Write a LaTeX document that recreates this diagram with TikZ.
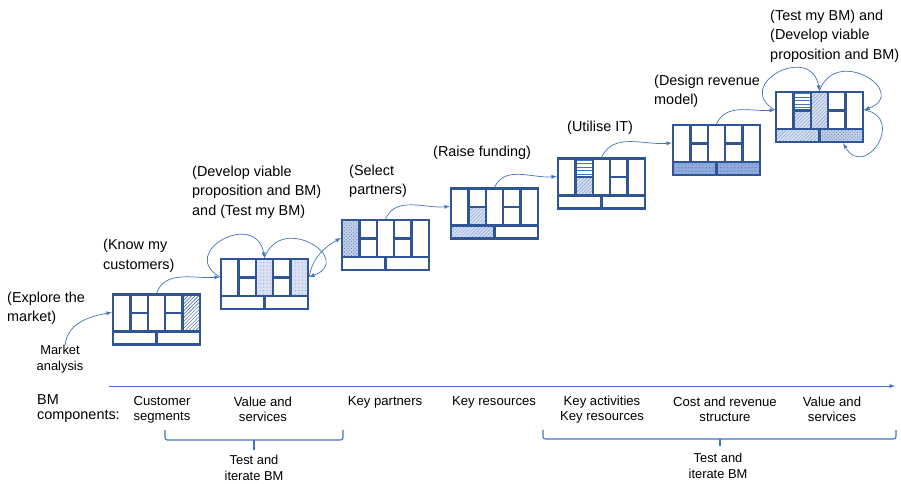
\documentclass[tikz,border=0pt]{standalone}
\usepackage{fontspec}
\setmainfont{Liberation Sans}
\usetikzlibrary{patterns}
\definecolor{bmdark}{HTML}{2F5597}
\definecolor{bmflow}{HTML}{4472C4}
\definecolor{bmpale}{HTML}{D9E1F2}
\definecolor{bmmid}{HTML}{8FAADC}
\tikzset{>=latex}
\tikzset{
  bmline/.style={draw=bmdark, line width=2pt},
  canvasbox/.style={bmline, rectangle, minimum width=2.61cm, minimum height=1.5cm, inner sep=0pt},
  flow/.style={->, draw=bmflow, line width=0.6pt},
  brace/.style={draw=bmflow, line width=0.9pt, rounded corners=2pt},
  hatchcell/.style={pattern=north east lines, pattern color=bmdark},
  lightcell/.style={preaction={fill=bmpale}, pattern=north east lines, pattern color=bmflow!70},
  dotcell/.style={preaction={fill=bmpale}, pattern=dots, pattern color=bmflow!60},
  stripecell/.style={pattern=horizontal lines, pattern color=bmflow},
  pebblecell/.style={preaction={fill=bmpale!85!bmflow}, pattern=crosshatch dots, pattern color=bmdark!75},
  darkcell/.style={preaction={fill=bmmid}, pattern=dots, pattern color=bmdark!80},
  steplabel/.style={anchor=west, align=left, inner sep=0pt, font=\fontsize{12.3}{16.6}\selectfont},
  complabel/.style={align=center, inner sep=0pt, font=\fontsize{11.2}{12.8}\selectfont},
  smalllabel/.style={align=center, inner sep=0pt, font=\fontsize{11}{13.4}\selectfont}
}
% inner lines of one canvas, drawn in its own 87 x 50 frame
\newcommand{\bmgrid}{%
  \draw[bmline] (0,13) -- (87,13) (43.5,0) -- (43.5,13);
  \foreach \cx in {17.4,34.8,52.2,69.6}
    \draw[bmline] (\cx,13) -- (\cx,50);
  \draw[bmline] (17.4,31.5) -- (34.8,31.5) (52.2,31.5) -- (69.6,31.5);
}

\begin{document}
\begin{tikzpicture}[x=0.03cm, y=0.03cm]
    \useasboundingbox (0,0) rectangle (901,484);

    % canvases
    \begin{scope}[shift={(113,139.5)}]
        \fill[hatchcell] (69.6,13) rectangle (87,50);
        \node[canvasbox] (c1) at (43.5,25) {};
        \bmgrid
    \end{scope}
    \begin{scope}[shift={(221,175)}]
        \fill[dotcell] (34.8,13) rectangle (52.2,50);
        \fill[dotcell] (69.6,13) rectangle (87,50);
        \node[canvasbox] (c2) at (43.5,25) {};
        \bmgrid
    \end{scope}
    \begin{scope}[shift={(342,214)}]
        \fill[pebblecell] (0,13) rectangle (17.4,50);
        \node[canvasbox] (c3) at (43.5,25) {};
        \bmgrid
    \end{scope}
    \begin{scope}[shift={(451,245.5)}]
        \fill[lightcell] (17.4,13) rectangle (34.8,31.5);
        \fill[lightcell] (0,0) rectangle (43.5,13);
        \node[canvasbox] (c4) at (43.5,25) {};
        \bmgrid
    \end{scope}
    \begin{scope}[shift={(558,275.5)}]
        \fill[stripecell] (17.4,31.5) rectangle (34.8,50);
        \fill[lightcell] (17.4,13) rectangle (34.8,31.5);
        \node[canvasbox] (c5) at (43.5,25) {};
        \bmgrid
    \end{scope}
    \begin{scope}[shift={(673,309)}]
        \fill[darkcell] (0,0) rectangle (87,13);
        \node[canvasbox] (c6) at (43.5,25) {};
        \bmgrid
    \end{scope}
    \begin{scope}[shift={(776,342)}]
        \fill[stripecell] (17.4,31.5) rectangle (34.8,50);
        \fill[lightcell] (17.4,13) rectangle (34.8,31.5);
        \fill[lightcell] (34.8,13) rectangle (52.2,50);
        \fill[lightcell] (0,0) rectangle (43.5,13);
        \fill[pebblecell] (43.5,0) rectangle (87,13);
        \node[canvasbox] (c7) at (43.5,25) {};
        \bmgrid
    \end{scope}

    % step labels
    \node[steplabel] (explore) at (7,176) {(Explore the\\market)};
    \node[smalllabel] (ma) at (60,124.5) {Market\\analysis};
    \node[steplabel] (know) at (103,228) {(Know my\\customers)};
    \node[steplabel] (develop) at (192,292) {(Develop viable\\proposition and BM)\\and (Test my BM)};
    \node[steplabel] (select) at (349,302.5) {(Select\\partners)};
    \node[steplabel] (raise) at (433,331) {(Raise funding)};
    \node[steplabel] (utilise) at (567,356) {(Utilise IT)};
    \node[steplabel] (design) at (654,392.5) {(Design revenue\\model)};
    \node[steplabel] (testdev) at (770,448) {(Test my BM) and\\(Develop viable\\proposition and BM)};

    % flow between canvases
    \draw[flow] (ma.70) to[out=85, in=190] (c1.171);
    \draw[flow] (c1.north) to[out=70, in=185] (c2.171);
    \draw[flow] (c2.171) to[out=150, in=100, looseness=2.6] (c2.north);
    \draw[flow] (c2.north) to[out=70, in=20, looseness=2.6] (c2.9);
    \draw[flow] (c2.9) to[out=80, in=210] (c3.171);
    \draw[flow] (c3.north) to[out=65, in=185] (c4.171);
    \draw[flow] (c4.north) to[out=65, in=185] (c5.171);
    \draw[flow] (c5.north) to[out=65, in=185] (c6.171);
    \draw[flow] (c6.north) to[out=65, in=185] (c7.171);
    \draw[flow] (c7.171) to[out=150, in=100, looseness=2.6] (c7.north);
    \draw[flow] (c7.north) to[out=70, in=20, looseness=2.6] (c7.9);
    \draw[flow] (c7.9) to[out=-10, in=-60, looseness=2.8] (c7.-48);

    % axis of components
    \coordinate (axs) at (109,98);
    \coordinate (axe) at (895,98);
    \draw[flow] (axs) -- (axe);
    \node[anchor=west, align=left, inner sep=0pt, font=\fontsize{12.3}{13.2}\selectfont] (comp) at (37,75.5) {BM\\components:};
    \node[complabel] (cs) at (162,74.5) {Customer\\segments};
    \node[complabel] (vs1) at (263,74.5) {Value and\\services};
    \node[complabel] (kp) at (385,82) {Key partners};
    \node[complabel] (kr) at (494,82) {Key resources};
    \node[complabel] (ka) at (602,74.5) {Key activities\\Key resources};
    \node[complabel] (cr) at (725,74.5) {Cost and revenue\\structure};
    \node[complabel] (vs2) at (832,74.5) {Value and\\services};

    % brackets
    \draw[brace] (165,54) -- (165,44) -- (343,44) -- (343,54);
    \draw[brace] (254,44) -- (254,34);
    \node[smalllabel] (iter1) at (254,16) {Test and\\iterate BM};
    \draw[brace] (543,54) -- (543,45) -- (896,45) -- (896,54);
    \draw[brace] (720,45) -- (720,38);
    \node[smalllabel] (iter2) at (718,18) {Test and\\iterate BM};
\end{tikzpicture}
\end{document}
